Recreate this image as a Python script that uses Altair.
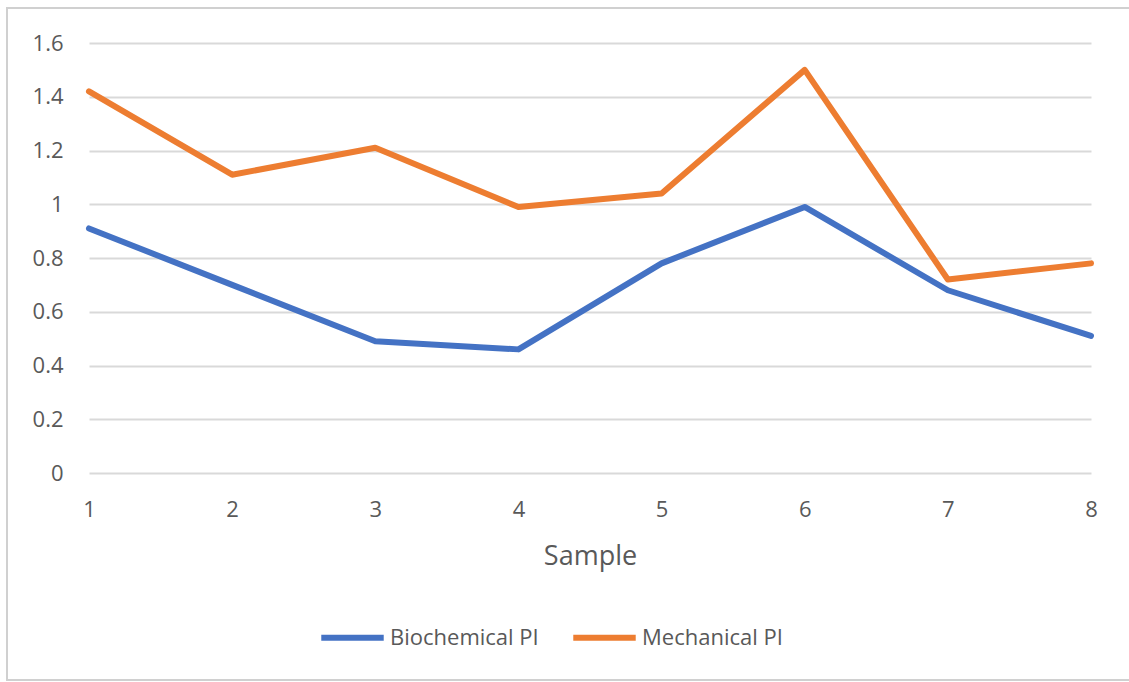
import altair as alt
import pandas as pd

samples = [1, 2, 3, 4, 5, 6, 7, 8]
biochemical = [0.91, 0.70, 0.49, 0.46, 0.78, 0.99, 0.68, 0.51]
mechanical = [1.42, 1.11, 1.21, 0.99, 1.04, 1.50, 0.72, 0.78]
series_names = ["Biochemical PI", "Mechanical PI"]
colors = ["#4472C4", "#ED7D31"]

rows = []
for s, b, m in zip(samples, biochemical, mechanical):
    rows.append({"Sample": s, "Series": series_names[0], "Value": b})
    rows.append({"Sample": s, "Series": series_names[1], "Value": m})
df = pd.DataFrame(rows)

FONT = "Open Sans"
GRAY = "#595959"

lines = alt.Chart(df).mark_line(strokeWidth=6, strokeCap="round", strokeJoin="round").encode(
    x=alt.X("Sample:Q",
            scale=alt.Scale(domain=[1, 8], nice=False, zero=False),
            axis=alt.Axis(values=samples, title="Sample", grid=False, domain=False, ticks=False,
                          labelFlush=False,
                          labelFontSize=22, labelColor=GRAY, labelFont=FONT, labelPadding=26,
                          titleFontSize=27, titleColor=GRAY, titleFont=FONT, titleFontWeight="normal",
                          titlePadding=23, format="d")),
    y=alt.Y("Value:Q",
            scale=alt.Scale(domain=[0, 1.6], nice=False),
            axis=alt.Axis(values=[0, 0.2, 0.4, 0.6, 0.8, 1.0, 1.2, 1.4, 1.6], format="~g",
                          title=None, domain=False, ticks=False,
                          gridColor="#D9D9D9", gridWidth=2,
                          labelFontSize=22, labelColor=GRAY, labelFont=FONT, labelPadding=26)),
    color=alt.Color("Series:N",
                    scale=alt.Scale(domain=series_names, range=colors),
                    legend=alt.Legend(title=None, orient="none", direction="horizontal",
                                      legendX=229, legendY=560,
                                      symbolType="stroke", symbolStrokeWidth=6, symbolSize=3900,
                                      labelFontSize=22, labelColor=GRAY, labelFont=FONT,
                                      columnPadding=22, labelOffset=3)),
)

border = alt.Chart(pd.DataFrame({"a": [0]})).mark_rect(
    fill=None, stroke="#D0D0D0", strokeWidth=2, clip=False
).encode(
    x=alt.value(-82), x2=alt.value(1060), y=alt.value(-35), y2=alt.value(637)
)

chart = alt.layer(border, lines).properties(
    width=1002, height=430,
    padding={"left": 89, "top": 43, "right": 38, "bottom": 209},
    autosize=alt.AutoSizeParams(type="none"),
    background="white",
).configure_view(stroke=None)

chart.save("out.html", embed_options={"renderer": "svg", "actions": False})
